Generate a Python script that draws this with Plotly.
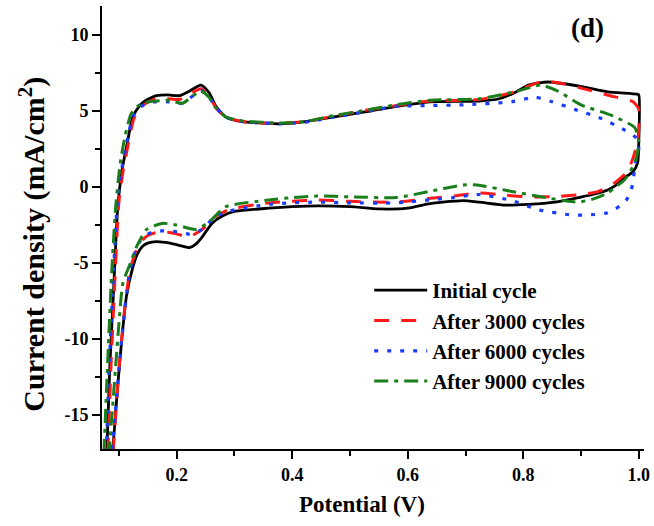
import plotly.graph_objects as go

# ---- data (Potential V, Current density mA/cm^2), loops traced anodic then cathodic ----
series_names = ["Initial cycle", "After 3000 cycles", "After 6000 cycles", "After 9000 cycles"]

initial_x = [0.079, 0.084, 0.090, 0.098, 0.105, 0.114, 0.124, 0.135, 0.145, 0.165, 0.185, 0.205, 0.222, 0.242, 0.256, 0.268, 0.285, 0.313, 0.350, 0.376, 0.422, 0.473, 0.520, 0.581, 0.638, 0.724, 0.758, 0.785, 0.809, 0.843, 0.901, 0.946, 0.997, 1.000, 1.000, 0.998, 0.990, 0.975, 0.960, 0.946, 0.920, 0.901, 0.855, 0.809, 0.770, 0.724, 0.696, 0.660, 0.638, 0.600, 0.550, 0.500, 0.444, 0.400, 0.359, 0.302, 0.280, 0.261, 0.244, 0.232, 0.222, 0.210, 0.188, 0.165, 0.150, 0.141, 0.132, 0.124, 0.113, 0.105, 0.097, 0.089]
initial_y = [-17.5, -12.0, -7.4, -1.3, 1.0, 2.8, 4.6, 5.3, 5.65, 6.0, 6.05, 6.0, 6.3, 6.7, 6.2, 5.3, 4.6, 4.3, 4.2, 4.15, 4.3, 4.6, 4.9, 5.3, 5.6, 5.65, 5.8, 6.2, 6.7, 6.9, 6.6, 6.25, 6.1, 6.05, 3.0, 1.6, 1.0, 0.6, 0.1, -0.2, -0.5, -0.66, -1.0, -1.15, -1.2, -1.0, -0.9, -1.0, -1.1, -1.4, -1.45, -1.3, -1.25, -1.3, -1.4, -1.6, -1.9, -2.4, -3.3, -3.8, -4.0, -3.9, -3.7, -3.6, -3.7, -3.9, -4.4, -5.3, -7.2, -10.0, -13.5, -17.5]

c3000_x = [0.081, 0.086, 0.092, 0.100, 0.107, 0.116, 0.126, 0.137, 0.147, 0.165, 0.185, 0.205, 0.222, 0.242, 0.256, 0.268, 0.285, 0.313, 0.350, 0.376, 0.422, 0.473, 0.520, 0.581, 0.638, 0.724, 0.780, 0.830, 0.860, 0.900, 0.950, 0.990, 1.000, 0.998, 0.990, 0.980, 0.958, 0.930, 0.900, 0.850, 0.810, 0.770, 0.724, 0.680, 0.640, 0.580, 0.500, 0.444, 0.400, 0.360, 0.290, 0.265, 0.244, 0.220, 0.205, 0.188, 0.165, 0.150, 0.136, 0.127, 0.119, 0.110, 0.100, 0.090]
c3000_y = [-17.5, -12.0, -7.0, -1.0, 1.0, 2.8, 4.5, 5.2, 5.5, 5.8, 5.8, 5.75, 6.1, 6.45, 6.0, 5.2, 4.6, 4.3, 4.2, 4.2, 4.3, 4.65, 5.0, 5.35, 5.65, 5.75, 6.2, 6.9, 6.85, 6.5, 6.0, 5.6, 5.1, 3.0, 1.9, 1.0, 0.26, -0.3, -0.5, -0.65, -0.66, -0.55, -0.4, -0.6, -0.75, -1.0, -0.95, -0.86, -0.95, -1.05, -1.5, -2.0, -2.8, -3.3, -3.15, -3.0, -3.0, -3.2, -3.7, -4.5, -5.5, -8.0, -12.0, -17.5]

c6000_x = [0.078, 0.083, 0.089, 0.097, 0.105, 0.114, 0.124, 0.135, 0.145, 0.165, 0.185, 0.210, 0.225, 0.242, 0.256, 0.268, 0.285, 0.313, 0.350, 0.376, 0.422, 0.473, 0.520, 0.580, 0.638, 0.696, 0.780, 0.820, 0.850, 0.889, 0.935, 0.975, 0.996, 1.000, 0.996, 0.987, 0.975, 0.946, 0.910, 0.884, 0.826, 0.780, 0.724, 0.680, 0.640, 0.580, 0.500, 0.444, 0.400, 0.360, 0.290, 0.265, 0.244, 0.222, 0.200, 0.165, 0.150, 0.136, 0.125, 0.117, 0.105, 0.088]
c6000_y = [-17.5, -12.0, -7.0, -1.2, 1.2, 3.0, 4.6, 5.2, 5.45, 5.6, 5.6, 5.5, 5.9, 6.35, 5.9, 5.2, 4.6, 4.3, 4.2, 4.15, 4.25, 4.6, 4.9, 5.3, 5.35, 5.4, 5.6, 5.9, 5.6, 5.1, 4.5, 3.75, 3.2, 2.5, 2.0, -0.2, -1.05, -1.7, -1.85, -1.85, -1.5, -0.9, -0.5, -0.7, -0.85, -1.05, -1.05, -1.0, -1.05, -1.15, -1.6, -2.0, -2.8, -3.1, -2.95, -2.9, -3.1, -3.6, -4.6, -6.0, -10.0, -17.5]

c9000_x = [0.074, 0.080, 0.087, 0.094, 0.102, 0.111, 0.121, 0.132, 0.145, 0.165, 0.185, 0.210, 0.225, 0.242, 0.256, 0.268, 0.285, 0.313, 0.350, 0.376, 0.422, 0.473, 0.520, 0.580, 0.638, 0.724, 0.790, 0.830, 0.860, 0.900, 0.953, 0.993, 1.000, 0.995, 0.985, 0.975, 0.960, 0.946, 0.920, 0.895, 0.870, 0.838, 0.780, 0.720, 0.696, 0.650, 0.580, 0.500, 0.444, 0.400, 0.360, 0.285, 0.256, 0.233, 0.199, 0.175, 0.148, 0.131, 0.120, 0.107, 0.100, 0.092, 0.083]
c9000_y = [-17.5, -12.0, -6.0, -1.5, 1.5, 3.4, 4.8, 5.3, 5.55, 5.65, 5.7, 5.5, 5.9, 6.3, 5.9, 5.2, 4.6, 4.35, 4.25, 4.2, 4.3, 4.7, 5.0, 5.4, 5.7, 5.8, 6.3, 6.7, 6.3, 5.4, 4.7, 3.9, 3.0, 1.8, 1.0, 0.46, 0.0, -0.4, -0.8, -1.0, -0.9, -0.7, -0.3, 0.13, 0.13, -0.2, -0.7, -0.65, -0.6, -0.7, -0.86, -1.3, -2.3, -2.8, -2.5, -2.4, -2.8, -3.9, -5.0, -6.3, -9.0, -13.0, -17.5]

x_tick_vals = [0.2, 0.4, 0.6, 0.8, 1.0]
x_tick_text = ["0.2", "0.4", "0.6", "0.8", "1.0"]
y_tick_vals = [-15, -10, -5, 0, 5, 10]
y_tick_text = ["-15", "-10", "-5", "0", "5", "10"]

FONT = "Liberation Serif"

xs = [initial_x, c3000_x, c6000_x, c9000_x]
ys = [initial_y, c3000_y, c6000_y, c9000_y]
colors = ["#000000", "#ff1a1a", "#1a3cff", "#1a7f1a"]
dashes = ["solid", "15px,12px", "4px,9px", "14px,6px,4px,6px"]
widths = [2.8, 3.0, 3.2, 3.0]

fig = go.Figure()
for name, x, y, c, d, w in zip(series_names, xs, ys, colors, dashes, widths):
    fig.add_trace(go.Scatter(x=x, y=y, mode="lines", name=name,
                             line=dict(color=c, dash=d, width=w, shape="spline", smoothing=0.6)))

axis_common = dict(showline=True, linecolor="black", linewidth=2, mirror=False,
                   showgrid=False, zeroline=False, ticks="outside", tickcolor="black",
                   tickwidth=2, ticklen=8, ticklabeloverflow="allow",
                   tickfont=dict(family=FONT, size=18, color="black", weight="bold"))

fig.update_layout(
    width=654, height=526,
    margin=dict(l=102, r=4, t=6, b=77),
    paper_bgcolor="white", plot_bgcolor="white",
    showlegend=True,
    legend=dict(x=0.493, y=0.404, xanchor="left", yanchor="top",
                bgcolor="rgba(0,0,0,0)", borderwidth=0, itemwidth=53,
                font=dict(family=FONT, size=21, color="black", weight="bold"),
                tracegroupgap=0),
    xaxis=dict(range=[0.0707, 1.009], tickvals=x_tick_vals, ticktext=x_tick_text,
               minor=dict(dtick=0.1, tick0=0, ticklen=5, tickwidth=2, tickcolor="black", ticks="outside"),
               **axis_common),
    yaxis=dict(range=[-17.24, 11.9], tickvals=y_tick_vals, ticktext=y_tick_text,
               minor=dict(dtick=2.5, tick0=0, ticklen=5, tickwidth=2, tickcolor="black", ticks="outside"),
               **axis_common),
    annotations=[
        dict(text="(d)", x=0.896, y=0.95, xref="paper", yref="paper", xanchor="center", yanchor="middle",
             showarrow=False, font=dict(family=FONT, size=27, color="black", weight="bold")),
        dict(text="Potential (V)", x=0.480, y=-0.126, xref="paper", yref="paper",
             xanchor="center", yanchor="middle", showarrow=False,
             font=dict(family=FONT, size=23, color="black", weight="bold")),
        dict(text="Current density (mA/cm<sup>2</sup>)", x=-0.1277, y=0.463, xref="paper", yref="paper",
             xanchor="center", yanchor="middle", textangle=-90, showarrow=False,
             font=dict(family=FONT, size=30, color="black", weight="bold")),
    ],
)

fig.write_html("out.html")
